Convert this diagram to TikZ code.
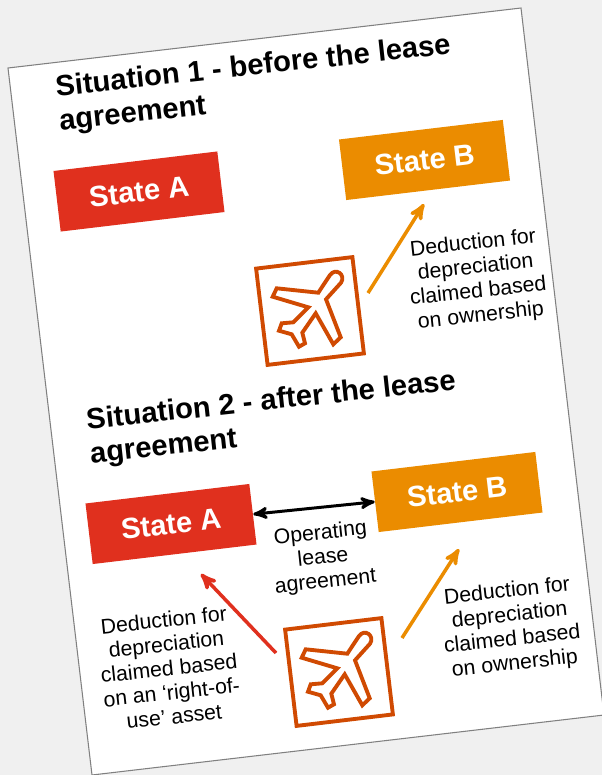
\documentclass[tikz,border=0pt]{standalone}
\usepackage{fontspec}
\setmainfont{Liberation Sans}
\usepackage{xcolor}
\usetikzlibrary{arrows,positioning,calc}
\definecolor{pagegrey}{HTML}{F0F0F0}
\definecolor{edgegrey}{HTML}{808080}
\definecolor{statered}{HTML}{E0301E}
\definecolor{stateorange}{HTML}{EB8C00}
\definecolor{planeorange}{HTML}{D04A02}
\def\pg{6.8}
\def\tg{6.2}
\tikzset{
  statebox/.style={rectangle,minimum width=3.3cm,minimum height=1.22cm,inner sep=0pt,rotate=\pg,text=white,
    font=\fontsize{16.6}{19.3}\selectfont\bfseries},
  headline/.style={rotate=\tg,align=left,inner sep=0pt,font=\fontsize{16.6}{19.3}\selectfont\bfseries},
  remark/.style={rotate=\tg,align=center,inner sep=0pt,font=\fontsize{12.1}{13.8}\selectfont},
  planebox/.style={rectangle,draw=planeorange,line width=2.2pt,minimum size=1.94cm,inner sep=0pt,rotate=\pg},
  planeline/.style={draw=planeorange,line width=2.2pt,line join=miter},
  flow/.style={->,line width=2pt}
}
\begin{document}
\begin{tikzpicture}[>=stealth',x=0.02cm,y=-0.02cm]
\useasboundingbox (0,0) rectangle (602,775);
\clip (0,0) rectangle (602,775);
\fill[pagegrey] (0,0) rectangle (602,775);
%%% Sheet:
\draw[fill=white,draw=edgegrey,line width=0.6pt] (8,68) -- (521,8) -- (604,715) -- (92,775) -- cycle;
\def\planepath{(20,-36) -- (8.3,-18.3) -- (-33.3,-22.7) -- (-37.3,-14.3) -- (-1.7,-3.7) -- (-16.7,11.3) -- (-28.3,12.3) -- (-31,19.7) -- (-18.3,23.3) -- (-11,35.7) -- (-5,32.3) -- (-7.7,21.7) -- (5.7,2.3) -- (23.3,33.3) -- (30.7,26.3) -- (16,-11.7) -- (31,-28.3) .. controls (36,-36) and (26,-44) .. (20,-36) -- cycle}
%%% Situation 1:
\node[headline] (titleone) at (255,84.5) {Situation 1 - before the lease\\agreement};
\node[statebox,fill=statered] (stateAone) at (139,191.5) {State A};
\node[statebox,fill=stateorange] (stateBone) at (424.5,160) {State B};
\node[planebox] (planeone) at (310,311) {};
\draw[planeline,shift={(planeone.center)}] \planepath;
\coordinate (arrowstartone) at (368,293);
\coordinate (arrowendone) at (424,204);
\draw[flow,stateorange] (arrowstartone) -- (arrowendone);
\node[remark] (remarkone) at (477,280) {Deduction for\\depreciation\\claimed based\\on ownership};
%%% Situation 2:
\node[headline] (titletwo) at (273,419) {Situation 2 - after the lease\\agreement};
\node[statebox,fill=statered] (stateAtwo) at (171,524) {State A};
\node[statebox,fill=stateorange] (stateBtwo) at (457,492) {State B};
\draw[<->,black,line width=1.7pt] (stateAtwo.east) -- (stateBtwo.west);
\node[remark] (leasetext) at (323,558) {Operating\\lease\\agreement};
\node[planebox] (planetwo) at (339,672) {};
\draw[planeline,shift={(planetwo.center)}] \planepath;
\coordinate (arrowstarttwo) at (402,638);
\coordinate (arrowendtwo) at (459,549);
\draw[flow,stateorange] (arrowstarttwo) -- (arrowendtwo);
\coordinate (redstart) at (276,653);
\coordinate (redend) at (201,574);
\draw[flow,statered] (redstart) -- (redend);
\node[remark] (remarktwo) at (511,628) {Deduction for\\depreciation\\claimed based\\on ownership};
\node[remark] (remarkthree) at (169,668) {Deduction for\\depreciation\\claimed based\\on an ‘right-of-\\use’ asset};
\end{tikzpicture}
\end{document}
